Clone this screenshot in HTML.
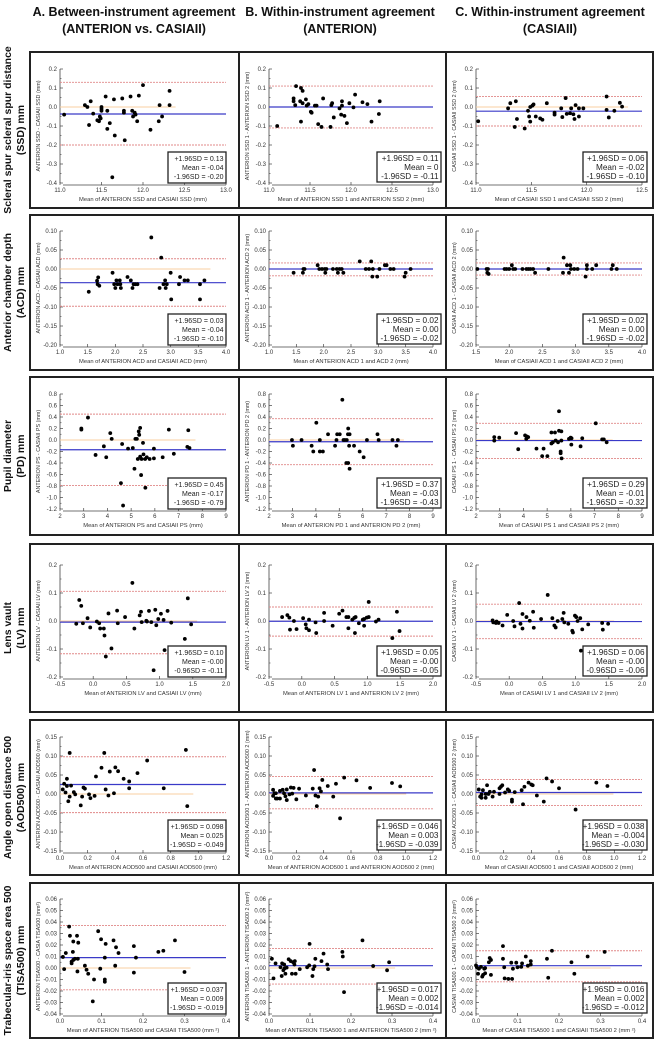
<!DOCTYPE html>
<html><head><meta charset="utf-8">
<style>
html,body{margin:0;padding:0;background:#fff;}
svg{display:block;font-family:"Liberation Sans",sans-serif;}
</style></head>
<body>
<svg id="fig" width="656" height="1040" viewBox="0 0 656 1040" xmlns="http://www.w3.org/2000/svg"></svg>
<script>
// ---------- DATA ----------
const x1A=[11.05,11.3,11.33,11.35,11.37,11.4,11.45,11.47,11.48,11.49,11.5,11.5,11.5,11.55,11.57,11.57,11.6,11.63,11.65,11.66,11.75,11.77,11.77,11.78,11.85,11.87,11.88,11.9,11.91,11.93,11.95,12.0,12.09,12.2,12.19,12.23,12.32,12.32];
const y1A=[-0.04,0.01,0.0,-0.095,0.03,-0.035,-0.07,-0.075,-0.05,-0.06,0.0,-0.02,-0.01,0.055,-0.02,-0.115,-0.085,-0.37,0.04,-0.15,0.045,-0.03,-0.02,-0.175,0.055,-0.02,-0.05,-0.03,-0.04,-0.075,0.06,0.115,-0.12,0.01,-0.075,-0.05,0.085,0.01];
const x1B=[11.1,11.33,11.3,11.3,11.32,11.38,11.39,11.41,11.39,11.41,11.45,11.46,11.48,11.51,11.52,11.56,11.58,11.6,11.64,11.66,11.75,11.76,11.77,11.79,11.86,11.88,11.89,11.89,11.92,11.95,11.98,12.03,12.05,12.14,12.2,12.25,12.34,12.35];
const y1B=[-0.1,0.11,0.045,0.03,0.01,0.03,0.1,0.085,-0.077,0.02,0.04,0.007,0.015,-0.025,-0.03,0.007,0.007,-0.09,-0.105,0.045,-0.105,0.01,0.02,-0.055,-0.007,-0.04,0.007,0.03,-0.047,-0.085,0.02,-0.002,0.065,0.025,0.015,-0.077,-0.037,0.03];
const x1C=[11.02,11.29,11.31,11.36,11.35,11.37,11.44,11.47,11.48,11.49,11.49,11.51,11.52,11.54,11.58,11.6,11.64,11.71,11.71,11.77,11.78,11.81,11.82,11.85,11.86,11.88,11.89,11.9,11.93,11.93,11.97,12.18,12.18,12.2,12.25,12.3,12.32];
const y1C=[-0.075,-0.007,0.02,0.03,-0.105,-0.063,-0.113,-0.02,-0.05,-0.077,0,0.007,0.014,-0.05,-0.06,-0.067,0.02,-0.04,-0.03,-0.007,-0.053,0.047,-0.036,-0.033,-0.007,-0.038,-0.063,0.01,-0.05,-0.007,-0.007,0.055,-0.015,-0.055,-0.02,0.022,0.002];
const x2A=[1.52,1.67,1.68,1.69,1.71,1.95,1.98,2.0,2.02,2.04,2.08,2.09,2.1,2.22,2.28,2.31,2.33,2.36,2.4,2.65,2.8,2.83,2.87,2.9,2.91,2.93,3.0,3.01,3.15,3.17,3.25,3.31,3.53,3.53,3.61];
const y2A=[-0.06,-0.031,-0.04,-0.022,-0.044,-0.01,-0.04,-0.05,-0.03,-0.04,-0.03,-0.04,-0.05,-0.021,-0.03,-0.05,-0.04,-0.04,-0.04,0.083,-0.05,0.03,-0.04,-0.03,-0.05,-0.04,-0.01,-0.08,-0.04,-0.021,-0.03,-0.03,-0.08,-0.04,-0.03];
const x2B=[1.45,1.62,1.63,1.65,1.89,1.92,1.97,2.02,2.03,2.05,2.17,2.24,2.26,2.29,2.33,2.36,2.66,2.77,2.83,2.87,2.9,2.89,2.98,3.02,3.12,3.15,3.22,3.28,3.48,3.5,3.59];
const y2B=[-0.01,-0.01,0,0,0.01,0,0,0,-0.01,0,0,0,-0.01,0,0,-0.01,0.02,0,0,0.02,0,-0.02,-0.02,0,0.01,0.01,0,0,-0.02,-0.01,0];
const x2C=[1.52,1.66,1.67,1.69,1.68,1.93,1.96,2.0,2.04,2.06,2.09,2.2,2.26,2.29,2.32,2.36,2.39,2.59,2.81,2.82,2.87,2.9,2.92,2.93,2.98,3.03,3.15,3.17,3.17,3.25,3.31,3.54,3.56,3.62];
const y2C=[0,0,-0.01,-0.013,0,0,0,0,0.01,0,0,0,0,0,0,0,-0.01,0,-0.01,0.03,0.01,-0.01,0.01,0,0,0,-0.02,0.01,0,0,0.01,0,0.01,0];
const x3A=[2.9,2.9,3.18,3.5,3.85,3.95,4.12,4.18,4.57,4.62,4.66,4.87,5.07,5.14,5.18,5.24,5.28,5.32,5.34,5.38,5.38,5.42,5.44,5.5,5.52,5.59,5.6,5.66,5.78,5.96,5.96,6.33,6.59,6.8,7.37,7.41,7.46];
const y3A=[0.2,0.18,0.39,-0.26,-0.11,-0.3,0.12,0.02,-0.75,-0.07,-1.14,-0.15,-0.14,-0.5,0.02,0.02,-0.33,0.15,0.09,-0.29,0.21,-0.61,-0.33,-0.05,-0.25,-0.33,-0.83,-0.3,-0.33,-0.32,-0.15,-0.3,0.18,-0.24,-0.12,0.17,-0.14];
const x3B=[2.98,3.02,3.39,3.82,3.89,4.02,4.17,4.17,4.3,4.52,4.82,4.88,4.91,5.02,5.13,5.18,5.24,5.3,5.32,5.37,5.38,5.38,5.44,5.42,5.44,5.63,5.87,6.04,6.18,6.63,6.68,7.27,7.44,7.5];
const y3B=[0,-0.1,0,-0.1,-0.2,0.3,0,-0.2,-0.2,0.1,-0.1,0,0.1,0.1,0.7,0,0,-0.4,0,0.1,0.2,-0.4,0.1,-0.1,-0.5,-0.1,-0.2,-0.3,0,0.1,0,0,-0.1,0];
const x3C=[2.77,2.77,2.98,3.69,3.78,4.07,4.12,4.15,4.2,4.55,4.79,4.85,5.01,5.18,5.18,5.24,5.33,5.36,5.46,5.5,5.5,5.57,5.57,5.6,5.6,5.61,5.92,5.99,6.02,6.03,6.41,6.48,7.05,7.32,7.39,7.51];
const y3C=[0.05,-0.01,0.04,0.12,-0.16,0.08,0.02,0.06,0.05,-0.15,-0.28,-0.15,-0.28,0.13,-0.06,-0.04,0.13,-0.01,-0.04,0.5,0.16,-0.2,-0.23,0.15,-0.01,-0.32,0.02,0.04,-0.08,0.03,-0.11,0.03,0.29,0.01,0.01,-0.04];
const x4A=[-0.255,-0.21,-0.18,-0.155,-0.085,-0.045,0.055,0.09,0.105,0.16,0.17,0.19,0.23,0.275,0.36,0.37,0.48,0.59,0.62,0.7,0.72,0.73,0.8,0.81,0.84,0.875,0.91,0.935,0.95,0.98,1.02,1.06,1.075,1.12,1.175,1.38,1.425,1.475];
const y4A=[-0.01,0.075,0.054,-0.008,0.01,-0.023,-0.002,-0.008,-0.027,-0.027,-0.052,-0.127,0.027,-0.098,0.037,-0.008,0.014,0.136,-0.027,0.02,0.033,-0.004,0.001,-0.002,0.036,-0.004,-0.176,0.04,-0.015,0.007,0.026,0.004,-0.104,0.036,-0.006,-0.064,0.081,-0.012];
const x4B=[-0.3,-0.22,-0.19,-0.18,-0.12,-0.08,0.02,0.06,0.07,0.11,0.11,0.21,0.22,0.34,0.34,0.47,0.57,0.62,0.68,0.71,0.71,0.77,0.8,0.81,0.82,0.87,0.93,0.95,0.95,0.99,1.02,1.02,1.13,1.17,1.38,1.45,1.49];
const y4B=[0.014,0.021,0.012,-0.031,0,-0.029,0.01,-0.012,-0.026,0.005,-0.033,-0.005,-0.043,0.029,0,-0.017,0.026,0.037,0.014,0.014,-0.026,0.005,0.011,-0.043,0.014,-0.008,0.005,-0.017,0.007,0.012,0.014,0.068,-0.002,0.005,-0.061,0.033,-0.036];
const x4C=[-0.25,-0.24,-0.2,-0.19,-0.16,-0.1,-0.03,0.06,0.08,0.15,0.17,0.2,0.2,0.26,0.31,0.36,0.37,0.48,0.58,0.65,0.68,0.7,0.73,0.8,0.82,0.83,0.89,0.95,0.96,0.99,1.01,1.03,1.07,1.08,1.1,1.19,1.4,1.41,1.49];
const y4C=[0.002,-0.005,-0.007,-0.002,-0.007,-0.016,0.022,0,-0.019,0.064,-0.01,0.025,-0.027,0.014,0.001,0.033,-0.024,0.007,0.093,0.01,-0.016,-0.023,0,0.007,0.029,-0.005,-0.01,-0.035,-0.041,0.019,0.014,0,0.01,-0.106,-0.03,-0.012,-0.007,-0.031,-0.01];
const x5A=[0.02,0.03,0.04,0.05,0.05,0.06,0.07,0.07,0.08,0.1,0.11,0.15,0.16,0.17,0.18,0.21,0.22,0.25,0.26,0.3,0.32,0.33,0.35,0.36,0.39,0.4,0.42,0.46,0.5,0.5,0.56,0.63,0.75,0.91,0.92];
const y5A=[0.012,0.027,0.004,0.04,0.021,-0.019,0.108,-0.007,0.022,0.005,-0.001,-0.03,-0.007,0.017,0.014,-0.001,-0.011,-0.005,0.046,0.069,0.108,0.012,-0.004,0.059,0.002,0.07,0.06,0.04,0.033,0.015,0.055,0.088,0.015,0.116,-0.032];
const x5B=[0.03,0.03,0.04,0.05,0.05,0.06,0.08,0.08,0.1,0.11,0.12,0.13,0.13,0.15,0.16,0.17,0.18,0.2,0.22,0.27,0.32,0.33,0.34,0.35,0.36,0.37,0.38,0.39,0.43,0.47,0.49,0.52,0.55,0.64,0.74,0.9,0.96];
const y5B=[0.011,-0.005,0.002,-0.012,0.002,-0.012,0.008,-0.012,0.011,0.002,-0.006,0.012,-0.016,-0.001,0.017,0.001,0.016,-0.014,0.014,-0.004,0.014,0.063,-0.004,-0.032,-0.007,0.015,0.007,0.037,0.021,-0.007,0.027,-0.064,0.043,0.036,0.016,0.029,0.02];
const x5C=[0.02,0.03,0.04,0.04,0.05,0.07,0.07,0.08,0.09,0.1,0.12,0.13,0.17,0.17,0.18,0.19,0.21,0.23,0.24,0.26,0.26,0.28,0.33,0.34,0.35,0.38,0.4,0.41,0.44,0.49,0.51,0.55,0.6,0.72,0.87,0.95];
const y5C=[0.012,-0.007,-0.001,-0.01,0.01,0,-0.01,0.023,0,0.006,-0.007,0.006,0.015,0,0.019,0.023,0.004,0.012,0.008,-0.02,-0.015,0.005,0.01,-0.027,0.019,0.03,0.025,0.023,-0.004,-0.02,0.041,0.033,0.015,-0.041,0.03,0.021];
const x6A=[0.007,0.01,0.014,0.022,0.024,0.028,0.028,0.031,0.032,0.032,0.036,0.041,0.042,0.043,0.044,0.06,0.064,0.068,0.079,0.082,0.092,0.097,0.099,0.108,0.108,0.108,0.11,0.129,0.135,0.141,0.133,0.178,0.178,0.183,0.237,0.249,0.277,0.3];
const y6A=[0.0096,-0.001,0.013,0.036,0.028,0.004,0.0055,0.014,0.023,0.007,0.008,0.028,-0.003,0.008,0.022,0.002,-0.0015,-0.005,-0.029,-0.01,0.032,-0.0006,0.025,-0.01,-0.012,0.009,0.021,0.024,0.018,0.013,0.002,0.019,-0.004,0.009,0.014,0.015,0.024,-0.0035];
const x6B=[0.007,0.011,0.016,0.028,0.031,0.032,0.035,0.037,0.038,0.04,0.043,0.048,0.053,0.056,0.059,0.062,0.063,0.065,0.075,0.093,0.098,0.099,0.106,0.108,0.111,0.113,0.128,0.133,0.142,0.144,0.179,0.18,0.183,0.228,0.254,0.288,0.293];
const y6B=[0.008,-0.009,0.004,0.0006,-0.007,0.004,-0.002,0.003,-0.0003,-0.005,0.0003,0.0076,0.006,-0.005,0.005,0.003,0.006,-0.005,-0.001,0.0006,0.0023,0.021,-0.007,-0.001,0.0015,0.008,0.006,0.0125,0.003,-0.001,0.014,0.01,-0.021,0.024,0.0017,-0.002,0.005];
const x6C=[0,0.002,0.005,0.007,0.012,0.015,0.017,0.02,0.022,0.022,0.031,0.033,0.036,0.036,0.065,0.065,0.068,0.069,0.078,0.087,0.085,0.089,0.097,0.1,0.109,0.111,0.12,0.125,0.132,0.132,0.171,0.174,0.183,0.23,0.237,0.269,0.31];
const y6C=[0.0023,0.0006,-0.005,-0.0006,0.001,-0.0075,-0.006,-0.0006,-0.0046,0,0.005,0.0087,0.007,-0.006,0.019,0.008,0.0006,-0.009,-0.0095,-0.0095,0.0046,-0.0006,0.0046,0.0006,0.001,0.004,0.01,0.002,0.003,0.006,0.008,-0.0085,0.015,0.005,-0.005,0.01,0.014];

// limits of agreement: [upper, mean, lower]
const loa1A=[0.13,-0.037,-0.20], loa1B=[0.11,0,-0.11], loa1C=[0.055,-0.022,-0.10];
const loa2A=[0.027,-0.036,-0.098], loa2B=[0.016,0,-0.018], loa2C=[0.016,0,-0.016];
const loa3A=[0.45,-0.17,-0.79], loa3B=[0.37,-0.03,-0.43], loa3C=[0.29,-0.01,-0.32];
const loa4A=[0.106,-0.004,-0.117], loa4B=[0.05,-0.001,-0.054], loa4C=[0.06,-0.002,-0.063];
const loa5A=[0.098,0.025,-0.049], loa5B=[0.046,0.003,-0.039], loa5C=[0.038,0.004,-0.030];
const loa6A=[0.037,0.009,-0.019], loa6B=[0.017,0.002,-0.014], loa6C=[0.015,0.002,-0.012];

// printed stats text
const st1A=["+1.96SD = 0.13","Mean = -0.04","-1.96SD = -0.20"], st1B=["+1.96SD = 0.11","Mean = 0","-1.96SD = -0.11"], st1C=["+1.96SD = 0.06","Mean = -0.02","-1.96SD = -0.10"];
const st2A=["+1.96SD = 0.03","Mean = -0.04","-1.96SD = -0.10"], st2B=["+1.96SD = 0.02","Mean = 0.00","-1.96SD = -0.02"], st2C=["+1.96SD = 0.02","Mean = 0.00","-1.96SD = -0.02"];
const st3A=["+1.96SD = 0.45","Mean = -0.17","-1.96SD = -0.79"], st3B=["+1.96SD = 0.37","Mean = -0.03","-1.96SD = -0.43"], st3C=["+1.96SD = 0.29","Mean = -0.01","-1.96SD = -0.32"];
const st4A=["+1.96SD = 0.10","Mean = -0.00","-0.96SD = -0.11"], st4B=["+1.96SD = 0.05","Mean = -0.00","-0.96SD = -0.05"], st4C=["+1.96SD = 0.06","Mean = -0.00","-0.96SD = -0.06"];
const st5A=["+1.96SD = 0.098","Mean = 0.025","-1.96SD = -0.049"], st5B=["+1.96SD = 0.046","Mean = 0.003","-1.96SD = -0.039"], st5C=["+1.96SD = 0.038","Mean = -0.004","-1.96SD = -0.030"];
const st6A=["+1.96SD = 0.037","Mean = 0.009","-1.96SD = -0.019"], st6B=["+1.96SD = 0.017","Mean = 0.002","-1.96SD = -0.014"], st6C=["+1.96SD = 0.016","Mean = 0.002","-1.96SD = -0.012"];

// axis tick values
const xt_ssd=[11.0,11.5,12.0,12.5,13.0], xt_ssdC=[11.0,11.5,12.0,12.5], yt_ssd=[-0.4,-0.3,-0.2,-0.1,0.0,0.1,0.2];
const xt_acd=[1.0,1.5,2.0,2.5,3.0,3.5,4.0], xt_acdC=[1.5,2.0,2.5,3.0,3.5,4.0], yt_acd=[-0.20,-0.15,-0.10,-0.05,0.00,0.05,0.10];
const xt_pd=[2,3,4,5,6,7,8,9], yt_pd=[-1.2,-1.0,-0.8,-0.6,-0.4,-0.2,0.0,0.2,0.4,0.6,0.8];
const xt_lv=[-0.5,0.0,0.5,1.0,1.5,2.0], yt_lv=[-0.2,-0.1,0.0,0.1,0.2];
const xt_aod=[0.0,0.2,0.4,0.6,0.8,1.0,1.2], yt_aod=[-0.15,-0.10,-0.05,0.00,0.05,0.10,0.15];
const xt_tisa=[0.0,0.1,0.2,0.3,0.4], yt_tisa=[-0.04,-0.03,-0.02,-0.01,0.00,0.01,0.02,0.03,0.04,0.05,0.06];

// ---------- LAYOUT ----------
const NS="http://www.w3.org/2000/svg";
const svg=document.getElementById('fig');
function mk(tag,attrs,parent){const e=document.createElementNS(NS,tag);for(const k in attrs)e.setAttribute(k,attrs[k]);(parent||svg).appendChild(e);return e;}

const cols=[[30,239],[239,446],[446,653]];
const rows=[{b:[52,208],p:[69,183]},{b:[215,370],p:[231,345]},{b:[377,535],p:[394,509]},{b:[544,712],p:[565,677]},{b:[720,875],p:[737,851]},{b:[883,1038],p:[899,1014]}];

const heads=[[134,"A. Between-instrument agreement","(ANTERION vs. CASIAII)"],[340,"B. Within-instrument agreement","(ANTERION)"],[550,"C. Within-instrument agreement","(CASIAII)"]];
heads.forEach((h,i)=>{
  const t1=mk('text',{x:h[0],y:16,'text-anchor':'middle','font-size':'12.5','font-weight':'bold',fill:'#111'});
  
  
  t1.textContent=h[1];
  const t2=mk('text',{x:h[0],y:33,'text-anchor':'middle','font-size':'12.5','font-weight':'bold',fill:'#111'});
  
  
  t2.textContent=h[2];
});

const rowLabels=[["Scleral spur scleral spur distance","(SSD) mm"],["Anterior chamber depth","(ACD) mm"],["Pupil diameter","(PD) mm"],["Lens vault","(LV) mm"],["Angle open distance 500","(AOD500) mm"],["Trabecular-iris space area 500","(TISA500) mm"]];
rowLabels.forEach((r,i)=>{
  const cy=(rows[i].b[0]+rows[i].b[1])/2;
  [[11,r[0]],[24,r[1]]].forEach((l,j)=>{
    const t=mk('text',{x:l[0],y:cy,'text-anchor':'middle','font-size':'10.5','font-weight':'bold',fill:'#111',transform:`rotate(-90 ${l[0]} ${cy})`});
    
    
    t.textContent=l[1];
  });
});

rows.forEach((r,i)=>{
  const rb=mk('rect',{x:30,y:r.b[0],width:623,height:r.b[1]-r.b[0],fill:'none',stroke:'#222','stroke-width':2});
  
  
  [239,446].forEach(xv=>{
    const d=mk('line',{x1:xv,x2:xv,y1:r.b[0],y2:r.b[1],stroke:'#222','stroke-width':2});
    
    
  });
});

function fmt(v,d){return v.toFixed(d);}

const plots=[
 {r:0,c:0,x:x1A,y:y1A,loa:loa1A,st:st1A,xt:xt_ssd,yt:yt_ssd,xd:1,yd:1,yl:"ANTERION SSD - CASIAII SSD (mm)",xl:"Mean of ANTERION SSD and CASIAII SSD (mm)",id:'ssd-a'},
 {r:0,c:1,x:x1B,y:y1B,loa:loa1B,st:st1B,xt:xt_ssd,yt:yt_ssd,xd:1,yd:1,yl:"ANTERION SSD 1 - ANTERION SSD 2 (mm)",xl:"Mean of ANTERION SSD 1 and ANTERION SSD 2 (mm)",id:'ssd-b'},
 {r:0,c:2,x:x1C,y:y1C,loa:loa1C,st:st1C,xt:xt_ssdC,yt:yt_ssd,xd:1,yd:1,yl:"CASIAII SSD 1 - CASIAII SSD 2 (mm)",xl:"Mean of CASIAII SSD 1 and CASIAII SSD 2 (mm)",id:'ssd-c'},
 {r:1,c:0,x:x2A,y:y2A,loa:loa2A,st:st2A,xt:xt_acd,yt:yt_acd,xd:1,yd:2,yl:"ANTERION ACD - CASIAII ACD (mm)",xl:"Mean of ANTERION ACD and CASIAII ACD (mm)",id:'acd-a'},
 {r:1,c:1,x:x2B,y:y2B,loa:loa2B,st:st2B,xt:xt_acd,yt:yt_acd,xd:1,yd:2,yl:"ANTERION ACD 1 - ANTERION ACD 2 (mm)",xl:"Mean of ANTERION ACD 1 and ACD 2 (mm)",id:'acd-b'},
 {r:1,c:2,x:x2C,y:y2C,loa:loa2C,st:st2C,xt:xt_acdC,yt:yt_acd,xd:1,yd:2,yl:"CASIAII ACD 1 - CASIAII ACD 2 (mm)",xl:"Mean of CASIAII ACD 1 and CASIAII ACD 2 (mm)",id:'acd-c'},
 {r:2,c:0,x:x3A,y:y3A,loa:loa3A,st:st3A,xt:xt_pd,yt:yt_pd,xd:0,yd:1,yl:"ANTERION PS - CASIAII PS (mm)",xl:"Mean of ANTERION PS and CASIAII PS (mm)",id:'pd-a'},
 {r:2,c:1,x:x3B,y:y3B,loa:loa3B,st:st3B,xt:xt_pd,yt:yt_pd,xd:0,yd:1,yl:"ANTERION PD 1 - ANTERION PD 2 (mm)",xl:"Mean of ANTERION PD 1 and ANTERION PD 2 (mm)",id:'pd-b'},
 {r:2,c:2,x:x3C,y:y3C,loa:loa3C,st:st3C,xt:xt_pd,yt:yt_pd,xd:0,yd:1,yl:"CASIAII PS 1 - CASIAII PS 2 (mm)",xl:"Mean of CASIAII PS 1 and CASIAII PS 2 (mm)",id:'pd-c'},
 {r:3,c:0,x:x4A,y:y4A,loa:loa4A,st:st4A,xt:xt_lv,yt:yt_lv,xd:1,yd:1,yl:"ANTERION LV - CASIAII LV (mm)",xl:"Mean of ANTERION LV and CASIAII LV (mm)",id:'lv-a'},
 {r:3,c:1,x:x4B,y:y4B,loa:loa4B,st:st4B,xt:xt_lv,yt:yt_lv,xd:1,yd:1,yl:"ANTERION LV 1 - ANTERION LV 2 (mm)",xl:"Mean of ANTERION LV 1 and ANTERION LV 2 (mm)",id:'lv-b'},
 {r:3,c:2,x:x4C,y:y4C,loa:loa4C,st:st4C,xt:xt_lv,yt:yt_lv,xd:1,yd:1,yl:"CASIAII LV 1 - CASIAII LV 2 (mm)",xl:"Mean of CASIAII LV 1 and CASIAII LV 2 (mm)",id:'lv-c'},
 {r:4,c:0,x:x5A,y:y5A,loa:loa5A,st:st5A,xt:xt_aod,yt:yt_aod,xd:1,yd:2,yl:"ANTERION AOD500 - CASIAII AOD500 (mm)",xl:"Mean of ANTERION AOD500 and CASIAII AOD500 (mm)",id:'aod-a'},
 {r:4,c:1,x:x5B,y:y5B,loa:loa5B,st:st5B,xt:xt_aod,yt:yt_aod,xd:1,yd:2,yl:"ANTERION AOD500 1 - ANTERION AOD500 2 (mm)",xl:"Mean of ANTERION AOD500 1 and ANTERION AOD500 2 (mm)",id:'aod-b'},
 {r:4,c:2,x:x5C,y:y5C,loa:loa5C,st:st5C,xt:xt_aod,yt:yt_aod,xd:1,yd:2,yl:"CASIAII AOD500 1 - CASIAII AOD500 2 (mm)",xl:"Mean of CASIAII AOD500 1 and CASIAII AOD500 2 (mm)",id:'aod-c'},
 {r:5,c:0,x:x6A,y:y6A,loa:loa6A,st:st6A,xt:xt_tisa,yt:yt_tisa,xd:1,yd:2,yl:"ANTERION TISA500 - CASIA TISA500 (mm²)",xl:"Mean of ANTERION TISA500 and CASIAII TISA500 (mm ²)",id:'tisa-a'},
 {r:5,c:1,x:x6B,y:y6B,loa:loa6B,st:st6B,xt:xt_tisa,yt:yt_tisa,xd:1,yd:2,yl:"ANTERION TISA500 1 - ANTERION TISA500 2 (mm²)",xl:"Mean of ANTERION TISA500 1 and ANTERION TISA500 2 (mm ²)",id:'tisa-b'},
 {r:5,c:2,x:x6C,y:y6C,loa:loa6C,st:st6C,xt:xt_tisa,yt:yt_tisa,xd:1,yd:2,yl:"CASIAII TISA500 1 - CASIAII TISA500 2 (mm²)",xl:"Mean of CASIAII TISA500 1 and CASIAII TISA500 2 (mm ²)",id:'tisa-c'}
];

function drawPlot(P){
  const bx=cols[P.c], R=rows[P.r];
  const px0=bx[0]+30, px1=bx[1]-(P.c===2?11:13), py0=R.p[0], py1=R.p[1];
  const xmin=P.xt[0], xmax=P.xt[P.xt.length-1], ymin=P.yt[0], ymax=P.yt[P.yt.length-1];
  const sx=v=>px0+(v-xmin)/(xmax-xmin)*(px1-px0);
  const sy=v=>py1-(v-ymin)/(ymax-ymin)*(py1-py0);
  const g=mk('g',{});
  
  

  const ya=mk('line',{x1:px0,x2:px0,y1:py0,y2:py1,stroke:'#444','stroke-width':0.8},g);
  
  
  const xa=mk('line',{x1:px0+3,x2:px1,y1:py1+2,y2:py1+2,stroke:'#444','stroke-width':0.8},g);
  
  
  P.yt.forEach((v,i)=>{
    const y=sy(v);
    const tk=mk('line',{x1:px0,x2:px0+3,y1:y,y2:y,stroke:'#444','stroke-width':0.7},g);
    
    
    if(i<P.yt.length-1){const ym=(y+sy(P.yt[i+1]))/2;
      const mt=mk('line',{x1:px0,x2:px0+1.5,y1:ym,y2:ym,stroke:'#444','stroke-width':0.6},g);
      
      }
    const tl=mk('text',{x:px0-3,y:y+2,'text-anchor':'end','font-size':'6',fill:'#333'},g);
    
    
    tl.textContent=fmt(v,P.yd);
  });
  P.xt.forEach((v,i)=>{
    const x=sx(v);
    const tk=mk('line',{x1:x,x2:x,y1:py1+2,y2:py1-1,stroke:'#444','stroke-width':0.7},g);
    
    
    const tl=mk('text',{x:x,y:py1+9,'text-anchor':'middle','font-size':'6',fill:'#333'},g);
    
    
    tl.textContent=fmt(v,P.xd);
  });
  const yl=mk('text',{x:bx[0]+10,y:(py0+py1)/2,'text-anchor':'middle','font-size':'5.4',fill:'#333',transform:`rotate(-90 ${bx[0]+10} ${(py0+py1)/2})`},g);
  
  
  yl.textContent=P.yl;
  const xl=mk('text',{x:(px0+px1)/2,y:py1+18,'text-anchor':'middle','font-size':'5.8',fill:'#333'},g);
  
  
  xl.textContent=P.xl;

  const dmax=Math.max(...P.x);
  const zl=mk('line',{x1:px0,x2:Math.min(px1,sx(dmax)+6),y1:sy(0),y2:sy(0),stroke:'#f8cfa0','stroke-width':1},g);
  
  
  const up=mk('line',{x1:px0,x2:px1,y1:sy(P.loa[0]),y2:sy(P.loa[0]),stroke:'#e08888','stroke-width':0.9,'stroke-dasharray':'2 1'},g);
  
  
  const lo=mk('line',{x1:px0,x2:px1,y1:sy(P.loa[2]),y2:sy(P.loa[2]),stroke:'#e08888','stroke-width':0.9,'stroke-dasharray':'2 1'},g);
  
  
  const mn=mk('line',{x1:px0,x2:px1,y1:sy(P.loa[1]),y2:sy(P.loa[1]),stroke:'#3a3ac8','stroke-width':1.2},g);
  
  

  P.x.forEach((v,i)=>{
    const c=mk('circle',{cx:sx(v),cy:sy(P.y[i]),r:1.9,fill:'#000'},g);
    
    
  });

  const w=P.c===0?58:64, h=P.c===0?31:30;
  const rx=P.c===0?px1:px1+(P.c===1?8:5);
  const by=P.c===0?py1-h:py1-h-1;
  const sb=mk('rect',{x:rx-w,y:by,width:w,height:h,fill:'#fff',stroke:'#222','stroke-width':1.3},g);
  
  
  const fs=P.c===0?7:8.2;
  P.st.forEach((s,i)=>{
    const t=mk('text',{x:rx-2.5,y:by+8.8+i*9,'text-anchor':'end','font-size':fs,fill:'#222'},g);
    
    
    t.textContent=s;
  });
}
plots.forEach(drawPlot);
</script>
</body></html>
